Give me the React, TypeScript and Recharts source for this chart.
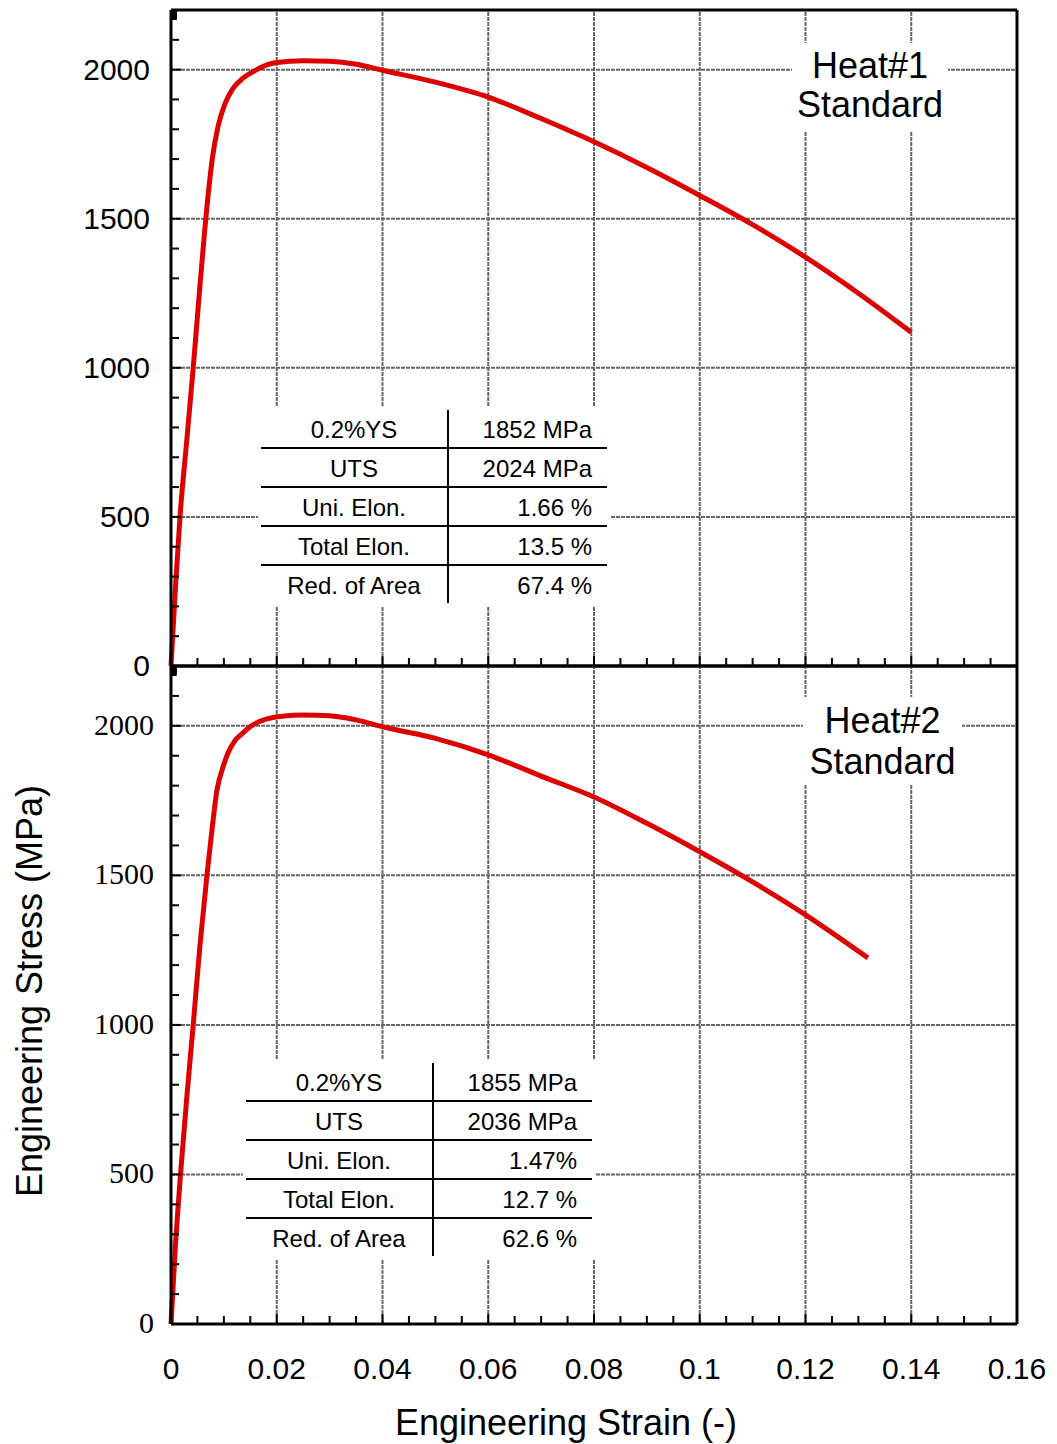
import React from 'react';
import { LineChart, Line, XAxis, YAxis, ReferenceLine } from 'recharts';

// Heat#1 standard specimen
const heat1Strain = [0, 0.0008, 0.0017, 0.003, 0.0042, 0.0055, 0.0068, 0.0078, 0.0089, 0.0102, 0.0117, 0.0135, 0.0155, 0.018, 0.02, 0.025, 0.03, 0.035, 0.04, 0.05, 0.06, 0.07, 0.08, 0.09, 0.1, 0.11, 0.12, 0.13, 0.14];
const heat1Stress = [0, 250, 500, 760, 1000, 1280, 1540, 1700, 1810, 1885, 1936, 1970, 1993, 2015, 2024, 2030, 2028, 2018, 1998, 1958, 1908, 1836, 1758, 1672, 1578, 1480, 1371, 1250, 1119];

// Heat#2 standard specimen
const heat2Strain = [0, 0.0008, 0.0018, 0.003, 0.0042, 0.0055, 0.0068, 0.0078, 0.0087, 0.0098, 0.0108, 0.012, 0.0134, 0.0146, 0.016, 0.018, 0.021, 0.025, 0.03, 0.035, 0.04, 0.05, 0.06, 0.07, 0.08, 0.09, 0.1, 0.11, 0.12, 0.1318];
const heat2Stress = [0, 250, 500, 760, 1000, 1270, 1500, 1660, 1786, 1860, 1910, 1948, 1973, 1992, 2008, 2022, 2032, 2036, 2034, 2020, 1997, 1958, 1903, 1832, 1762, 1674, 1579, 1478, 1368, 1224];

const xTicks = [0, 0.005, 0.01, 0.015, 0.02, 0.025, 0.03, 0.035, 0.04, 0.045, 0.05, 0.055, 0.06, 0.065, 0.07, 0.075, 0.08, 0.085, 0.09, 0.095, 0.1, 0.105, 0.11, 0.115, 0.12, 0.125, 0.13, 0.135, 0.14, 0.145, 0.15, 0.155, 0.16];
const xMajor = [0, 0.02, 0.04, 0.06, 0.08, 0.1, 0.12, 0.14, 0.16];
const xLabels = ['0', '0.02', '0.04', '0.06', '0.08', '0.1', '0.12', '0.14', '0.16'];

const yTicks = [0, 100, 200, 300, 400, 500, 600, 700, 800, 900, 1000, 1100, 1200, 1300, 1400, 1500, 1600, 1700, 1800, 1900, 2000, 2100, 2200];
const yMajor = [0, 500, 1000, 1500, 2000];
const yLabels = ['0', '500', '1000', '1500', '2000'];

const gridX = [0.02, 0.04, 0.06, 0.08, 0.1, 0.12, 0.14];
const gridY = [500, 1000, 1500, 2000];

const propNames = ['0.2%YS', 'UTS', 'Uni. Elon.', 'Total Elon.', 'Red. of Area'];
const heat1Values = ['1852 MPa', '2024 MPa', '1.66 %', '13.5 %', '67.4 %'];
const heat2Values = ['1855 MPa', '2036 MPa', '1.47%', '12.7 %', '62.6 %'];

const SANS = '"Liberation Sans", Arial, sans-serif';
const SERIF = '"Liberation Serif", "Times New Roman", serif';

const toRows = (strain: number[], stress: number[]) =>
  strain.map((s, i) => ({ strain: s, stress: stress[i] }));

const heat1Data = toRows(heat1Strain, heat1Stress);
const heat2Data = toRows(heat2Strain, heat2Stress);

const findMajor = (list: number[], v: number) => list.findIndex((m) => Math.abs(m - v) < 1e-9);

function XTick(props: any) {
  const { x, y, payload, dir, showLabels } = props;
  const idx = findMajor(xMajor, payload.value);
  const len = idx >= 0 ? 10 : 8;
  return (
    <g>
      <line x1={x} x2={x} y1={y} y2={y + dir * len} stroke="#000" strokeWidth={2} />
      {showLabels && idx >= 0 && (
        <text x={x} y={y + 55} textAnchor="middle" fontSize={30} fontFamily={SANS} fill="#000">
          {xLabels[idx]}
        </text>
      )}
    </g>
  );
}

function YTick(props: any) {
  const { x, y, payload, dir, font, gap, dy } = props;
  const idx = findMajor(yMajor, payload.value);
  const len = idx >= 0 ? 10 : 8;
  return (
    <g>
      <line x1={x} x2={x + dir * len} y1={y} y2={y} stroke="#000" strokeWidth={2} />
      {font && idx >= 0 && (
        <text x={x - gap} y={y + dy} textAnchor="end" fontSize={30} fontFamily={font} fill="#000">
          {yLabels[idx]}
        </text>
      )}
    </g>
  );
}

const frame = { stroke: '#000', strokeWidth: 3 };

function Panel({ data, height, margin, xHeight, showX, yFont, yGap, yDy }: any) {
  return (
    <LineChart width={1057} height={height} data={data} margin={margin}>
      <XAxis
        dataKey="strain"
        type="number"
        domain={[0, 0.16]}
        ticks={xTicks}
        interval={0}
        height={xHeight}
        tickSize={0}
        tickMargin={0}
        axisLine={frame}
        tick={(p: any) => <XTick {...p} dir={-1} showLabels={showX} />}
      />
      <XAxis
        xAxisId="top"
        orientation="top"
        type="number"
        domain={[0, 0.16]}
        ticks={xTicks}
        interval={0}
        height={1}
        tickSize={0}
        tickMargin={0}
        axisLine={frame}
        tick={(p: any) => <XTick {...p} dir={1} showLabels={false} />}
      />
      <YAxis
        type="number"
        domain={[0, 2200]}
        ticks={yTicks}
        interval={0}
        width={171}
        tickSize={0}
        tickMargin={0}
        axisLine={frame}
        tick={(p: any) => <YTick {...p} dir={1} font={yFont} gap={yGap} dy={yDy} />}
      />
      <YAxis
        yAxisId="right"
        orientation="right"
        type="number"
        domain={[0, 2200]}
        ticks={yTicks}
        interval={0}
        width={1}
        tickSize={0}
        tickMargin={0}
        axisLine={frame}
        tick={(p: any) => <YTick {...p} dir={-1} />}
      />
      {gridX.map((v) => (
        <ReferenceLine key={'gx' + v} x={v} stroke="#666" strokeWidth={2} strokeDasharray="4 1" />
      ))}
      {gridY.map((v) => (
        <ReferenceLine key={'gy' + v} y={v} stroke="#666" strokeWidth={2} strokeDasharray="4 1" />
      ))}
      <Line
        dataKey="stress"
        type="monotone"
        stroke="#dd0000"
        strokeWidth={5}
        dot={false}
        isAnimationActive={false}
      />
    </LineChart>
  );
}

function StatsTable({ left, top, values }: { left: number; top: number; values: string[] }) {
  return (
    <div style={{ position: 'absolute', left: left - 3, top: top - 4, padding: '2px 3px 3px 3px', background: '#fff' }}>
      <div style={{ width: 346, fontFamily: SANS, fontSize: 24, color: '#000' }}>
        {propNames.map((n, i) => (
          <div
            key={n}
            style={{
              display: 'flex',
              height: 39,
              lineHeight: '39px',
              borderTop: i === 0 ? '2px solid transparent' : '2px solid #000',
              boxSizing: 'border-box',
            }}
          >
            <div style={{ width: 186, textAlign: 'center' }}>{n}</div>
            <div
              style={{
                width: 160,
                textAlign: 'right',
                paddingRight: 15,
                boxSizing: 'border-box',
                borderLeft: '2px solid #000',
              }}
            >
              {values[i]}
            </div>
          </div>
        ))}
      </div>
    </div>
  );
}

function HeatLabel({ left, top, width, height, lines, lh }: any) {
  return (
    <div
      style={{
        position: 'absolute',
        left,
        top,
        width,
        height,
        background: '#fff',
        fontFamily: SANS,
        fontSize: 36,
        lineHeight: lh + 'px',
        textAlign: 'center',
        color: '#000',
        paddingTop: 3,
        boxSizing: 'border-box',
      }}
    >
      {lines.map((t: string) => (
        <div key={t}>{t}</div>
      ))}
    </div>
  );
}

export default function App() {
  return (
    <div style={{ position: 'absolute', left: 0, top: 0, width: 1057, height: 1444, background: '#fff' }}>
      <div style={{ position: 'absolute', left: 0, top: 0 }}>
        <Panel
          data={heat1Data}
          height={700}
          margin={{ top: 9, right: 39, bottom: 33, left: 0 }}
          xHeight={1}
          showX={false}
          yFont={SANS}
          yGap={21}
          yDy={10}
        />
      </div>
      <div style={{ position: 'absolute', left: 0, top: 662 }}>
        <Panel
          data={heat2Data}
          height={782}
          margin={{ top: 3, right: 39, bottom: 0, left: 0 }}
          xHeight={120}
          showX={true}
          yFont={SERIF}
          yGap={17}
          yDy={9}
        />
      </div>
      <HeatLabel left={792} top={43} width={156} height={89} lines={['Heat#1', 'Standard']} lh={39} />
      <HeatLabel left={803} top={697} width={159} height={87} lines={['Heat#2', 'Standard']} lh={41} />
      <StatsTable left={261} top={410} values={heat1Values} />
      <StatsTable left={246} top={1063} values={heat2Values} />
      <svg width={1057} height={1444} style={{ position: 'absolute', left: 0, top: 0, pointerEvents: 'none' }}>
        <text x={566} y={1435} textAnchor="middle" fontSize={36} fontFamily={SANS} fill="#000">
          Engineering Strain (-)
        </text>
        <text transform="translate(42, 991) rotate(-90)" textAnchor="middle" fontSize={36} fontFamily={SANS} fill="#000">
          Engineering Stress (MPa)
        </text>
      </svg>
    </div>
  );
}
